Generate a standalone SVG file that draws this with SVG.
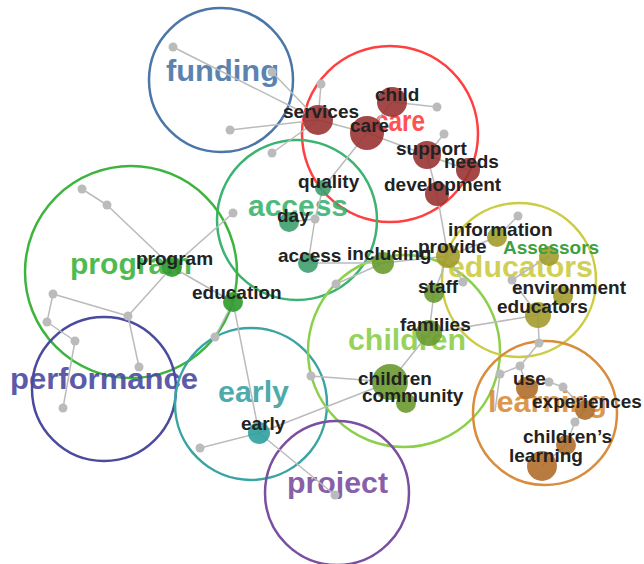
<svg xmlns="http://www.w3.org/2000/svg" width="644" height="564" viewBox="0 0 644 564">
<style>
.grp{fill:none;stroke-width:2.5}
.cl{font-family:"Liberation Sans",Arial,sans-serif;font-weight:bold;font-size:29px;opacity:0.9}
.nl{font-family:"Liberation Sans",Arial,sans-serif;font-weight:bold;font-size:19px;fill:#222}
.g{fill:#bbb}
#edges line{stroke:#bbb;stroke-width:1.5}
.red{fill:#993333;opacity:0.9}
.acc{fill:#3d9e6e;opacity:0.9}
.chi{fill:#6a9a30;opacity:0.9}
.edu{fill:#a29c2c;opacity:0.9}
.pro{fill:#2c9a2c;opacity:0.9}
.ear{fill:#2ea0a0;opacity:0.9}
.lea{fill:#b06e2c;opacity:0.9}
</style>
<rect width="644" height="564" fill="#fff"/>
<g id="clusters">
<g id="c-funding"><circle class="grp" cx="221" cy="80" r="72" stroke="#4a76a8"/><text class="cl" x="166" y="81" textLength="113" lengthAdjust="spacingAndGlyphs" fill="#4a76a8">funding</text></g>
<g id="c-care"><circle class="grp" cx="390" cy="134" r="88" stroke="#ff4040"/><text class="cl" x="375" y="131" textLength="50" lengthAdjust="spacingAndGlyphs" fill="#ff4040">care</text></g>
<g id="c-access"><circle class="grp" cx="297" cy="220" r="80" stroke="#3cb371"/><text class="cl" x="248" y="216" textLength="100" lengthAdjust="spacingAndGlyphs" fill="#3cb371">access</text></g>
<g id="c-program"><circle class="grp" cx="131" cy="272" r="106" stroke="#3db43d"/><text class="cl" x="70" y="274" textLength="122" lengthAdjust="spacingAndGlyphs" fill="#3db43d">program</text></g>
<g id="c-performance"><circle class="grp" cx="104" cy="389" r="72" stroke="#4a4a9e"/><text class="cl" x="10" y="389" textLength="188" lengthAdjust="spacingAndGlyphs" fill="#4a4a9e">performance</text></g>
<g id="c-early"><circle class="grp" cx="251" cy="404" r="76" stroke="#3aa3a3"/><text class="cl" x="218" y="402" textLength="71" lengthAdjust="spacingAndGlyphs" fill="#3aa3a3">early</text></g>
<g id="c-children"><circle class="grp" cx="404" cy="351" r="96" stroke="#8ccf4a"/><text class="cl" x="348" y="350" textLength="118" lengthAdjust="spacingAndGlyphs" fill="#8ccf4a">children</text></g>
<g id="c-educators"><circle class="grp" cx="519" cy="280" r="77" stroke="#cccc44"/><text class="cl" x="448" y="277" textLength="145" lengthAdjust="spacingAndGlyphs" fill="#cccc44">educators</text></g>
<g id="c-learning"><circle class="grp" cx="545" cy="413" r="72" stroke="#d98c3c"/><text class="cl" x="488" y="412" textLength="119" lengthAdjust="spacingAndGlyphs" fill="#d98c3c">learning</text></g>
<g id="c-project"><circle class="grp" cx="337" cy="493" r="72" stroke="#7b4fa0"/><text class="cl" x="287" y="493" textLength="101" lengthAdjust="spacingAndGlyphs" fill="#7b4fa0">project</text></g>
</g>
<g id="edges">
<line x1="318" y1="120" x2="173" y2="47"/>
<line x1="318" y1="120" x2="272" y2="72"/>
<line x1="318" y1="120" x2="321" y2="84"/>
<line x1="318" y1="120" x2="230" y2="130"/>
<line x1="318" y1="120" x2="272" y2="153"/>
<line x1="318" y1="120" x2="367" y2="133"/>
<line x1="367" y1="133" x2="392" y2="102"/>
<line x1="392" y1="102" x2="437" y2="107"/>
<line x1="367" y1="133" x2="427" y2="155"/>
<line x1="427" y1="155" x2="444" y2="134"/>
<line x1="427" y1="155" x2="468" y2="170"/>
<line x1="427" y1="155" x2="437" y2="194"/>
<line x1="437" y1="194" x2="448" y2="256"/>
<line x1="367" y1="133" x2="323" y2="188"/>
<line x1="323" y1="188" x2="315" y2="219"/>
<line x1="289" y1="222" x2="315" y2="219"/>
<line x1="315" y1="219" x2="308" y2="263"/>
<line x1="308" y1="263" x2="383" y2="263"/>
<line x1="383" y1="263" x2="336" y2="284"/>
<line x1="383" y1="263" x2="448" y2="256"/>
<line x1="233" y1="213" x2="172" y2="267"/>
<line x1="172" y1="267" x2="107" y2="205"/>
<line x1="107" y1="205" x2="82" y2="189"/>
<line x1="172" y1="267" x2="233" y2="302"/>
<line x1="172" y1="267" x2="128" y2="316"/>
<line x1="128" y1="316" x2="53" y2="294"/>
<line x1="53" y1="294" x2="47" y2="322"/>
<line x1="128" y1="316" x2="139" y2="367"/>
<line x1="47" y1="322" x2="75" y2="341"/>
<line x1="75" y1="341" x2="63" y2="408"/>
<line x1="233" y1="302" x2="215" y2="337"/>
<line x1="233" y1="302" x2="259" y2="433"/>
<line x1="259" y1="433" x2="200" y2="448"/>
<line x1="259" y1="433" x2="390" y2="382"/>
<line x1="259" y1="433" x2="335" y2="495"/>
<line x1="311" y1="376" x2="390" y2="382"/>
<line x1="390" y1="382" x2="429" y2="333"/>
<line x1="429" y1="333" x2="434" y2="293"/>
<line x1="429" y1="333" x2="538" y2="315"/>
<line x1="390" y1="382" x2="406" y2="403"/>
<line x1="434" y1="293" x2="448" y2="256"/>
<line x1="448" y1="256" x2="497" y2="237"/>
<line x1="497" y1="237" x2="518" y2="216"/>
<line x1="448" y1="256" x2="463" y2="282"/>
<line x1="538" y1="315" x2="563" y2="296"/>
<line x1="549" y1="256" x2="512" y2="280"/>
<line x1="512" y1="280" x2="538" y2="315"/>
<line x1="538" y1="315" x2="539" y2="343"/>
<line x1="539" y1="343" x2="520" y2="366"/>
<line x1="520" y1="366" x2="500" y2="374"/>
<line x1="500" y1="374" x2="495" y2="411"/>
<line x1="520" y1="366" x2="527" y2="388"/>
<line x1="527" y1="388" x2="549" y2="382"/>
<line x1="549" y1="382" x2="563" y2="387"/>
<line x1="563" y1="387" x2="585" y2="410"/>
<line x1="585" y1="410" x2="575" y2="422"/>
<line x1="575" y1="422" x2="566" y2="445"/>
<line x1="566" y1="445" x2="542" y2="466"/>
</g>
<g id="gray-nodes">
<circle class="g" cx="173" cy="47" r="4.5"/>
<circle class="g" cx="272" cy="72" r="4.5"/>
<circle class="g" cx="321" cy="84" r="4.5"/>
<circle class="g" cx="230" cy="130" r="4.5"/>
<circle class="g" cx="272" cy="153" r="4.5"/>
<circle class="g" cx="437" cy="107" r="4.5"/>
<circle class="g" cx="444" cy="134" r="4.5"/>
<circle class="g" cx="315" cy="219" r="4.5"/>
<circle class="g" cx="233" cy="213" r="4.5"/>
<circle class="g" cx="336" cy="284" r="4.5"/>
<circle class="g" cx="107" cy="205" r="4.5"/>
<circle class="g" cx="82" cy="189" r="4.5"/>
<circle class="g" cx="128" cy="316" r="4.5"/>
<circle class="g" cx="53" cy="294" r="4.5"/>
<circle class="g" cx="47" cy="322" r="4.5"/>
<circle class="g" cx="139" cy="367" r="4.5"/>
<circle class="g" cx="75" cy="341" r="4.5"/>
<circle class="g" cx="63" cy="408" r="4.5"/>
<circle class="g" cx="215" cy="337" r="4.5"/>
<circle class="g" cx="200" cy="448" r="4.5"/>
<circle class="g" cx="335" cy="495" r="4.5"/>
<circle class="g" cx="311" cy="376" r="4.5"/>
<circle class="g" cx="518" cy="216" r="4.5"/>
<circle class="g" cx="463" cy="282" r="4.5"/>
<circle class="g" cx="512" cy="280" r="4.5"/>
<circle class="g" cx="539" cy="343" r="4.5"/>
<circle class="g" cx="520" cy="366" r="4.5"/>
<circle class="g" cx="500" cy="374" r="4.5"/>
<circle class="g" cx="549" cy="382" r="4.5"/>
<circle class="g" cx="563" cy="387" r="4.5"/>
<circle class="g" cx="575" cy="422" r="4.5"/>
</g>
<g id="nodes">
<g id="n-services"><circle class="red" cx="318" cy="120" r="15"/><text class="nl" x="283" y="118">services</text></g>
<g id="n-child"><circle class="red" cx="392" cy="102" r="15"/><text class="nl" x="375" y="101">child</text></g>
<g id="n-care"><circle class="red" cx="367" cy="133" r="17"/><text class="nl" x="350" y="132">care</text></g>
<g id="n-support"><circle class="red" cx="427" cy="155" r="14"/><text class="nl" x="396" y="155">support</text></g>
<g id="n-needs"><circle class="red" cx="468" cy="170" r="12"/><text class="nl" x="444" y="168">needs</text></g>
<g id="n-development"><circle class="red" cx="437" cy="194" r="12"/><text class="nl" x="384" y="191">development</text></g>
<g id="n-quality"><circle class="acc" cx="323" cy="188" r="8"/><text class="nl" x="298" y="188">quality</text></g>
<g id="n-day"><circle class="acc" cx="289" cy="222" r="10"/><text class="nl" x="277" y="222">day</text></g>
<g id="n-access"><circle class="acc" cx="308" cy="263" r="10"/><text class="nl" x="278" y="262">access</text></g>
<g id="n-including"><circle class="chi" cx="383" cy="263" r="11"/><text class="nl" x="347" y="260">including</text></g>
<g id="n-staff"><circle class="chi" cx="434" cy="293" r="10"/><text class="nl" x="418" y="293">staff</text></g>
<g id="n-families"><circle class="chi" cx="429" cy="333" r="13"/><text class="nl" x="400" y="331">families</text></g>
<g id="n-children"><circle class="chi" cx="390" cy="382" r="18"/><text class="nl" x="358" y="385">children</text></g>
<g id="n-community"><circle class="chi" cx="406" cy="403" r="10"/><text class="nl" x="362" y="402">community</text></g>
<g id="n-information"><circle class="edu" cx="497" cy="237" r="10"/><text class="nl" x="448" y="236">information</text></g>
<g id="n-provide"><circle class="edu" cx="448" cy="256" r="12"/><text class="nl" x="418" y="253">provide</text></g>
<g id="n-assessors"><circle class="edu" cx="549" cy="256" r="10"/><text class="nl" x="503" y="254" style="fill:#3ea03e">Assessors</text></g>
<g id="n-environment"><circle class="edu" cx="563" cy="296" r="10"/><text class="nl" x="512" y="294">environment</text></g>
<g id="n-educators"><circle class="edu" cx="538" cy="315" r="13"/><text class="nl" x="497" y="313">educators</text></g>
<g id="n-program"><circle class="pro" cx="172" cy="267" r="10"/><text class="nl" x="136" y="265">program</text></g>
<g id="n-education"><circle class="pro" cx="233" cy="302" r="10"/><text class="nl" x="192" y="299">education</text></g>
<g id="n-early"><circle class="ear" cx="259" cy="433" r="11"/><text class="nl" x="241" y="430">early</text></g>
<g id="n-use"><circle class="lea" cx="527" cy="388" r="11"/><text class="nl" x="513" y="385">use</text></g>
<g id="n-experiences"><circle class="lea" cx="585" cy="410" r="10"/><text class="nl" x="532" y="408">experiences</text></g>
<g id="n-childrens"><circle class="lea" cx="566" cy="445" r="10"/><text class="nl" x="523" y="443">children’s</text></g>
<g id="n-learning"><circle class="lea" cx="542" cy="466" r="15"/><text class="nl" x="509" y="462">learning</text></g>
</g>
</svg>
